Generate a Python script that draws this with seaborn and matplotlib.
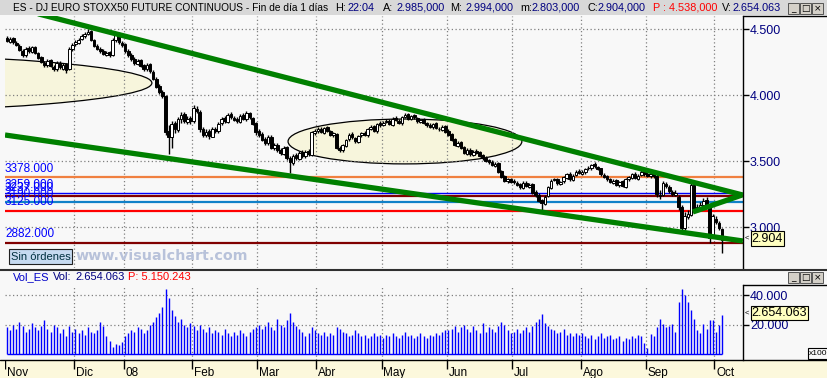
import numpy as np
import pandas as pd
import matplotlib
matplotlib.use("Agg")
import matplotlib.pyplot as plt
import seaborn as sns
from matplotlib.patches import Ellipse, Rectangle
from matplotlib.lines import Line2D
from matplotlib.ticker import FuncFormatter

# ---------------- data ----------------
months = ["Nov", "Dic", "08", "Feb", "Mar", "Abr", "May", "Jun", "Jul", "Ago", "Sep", "Oct"]
bars_per_month = [22, 16, 22, 21, 19, 21, 21, 21, 22, 21, 22, 3]

opens = [
    4430, 4405, 4430, 4395, 4375, 4335, 4300, 4355, 4325, 4365, 4315, 4285, 4245, 4225, 4265, 4215, 4195, 4245, 4200, 4235, 4195, 4345,
    4385, 4395, 4425, 4445, 4465, 4485, 4415, 4375, 4345, 4335, 4305, 4325, 4300, 4415, 4465, 4395,
    4385, 4335, 4305, 4275, 4235, 4265, 4225, 4195, 4235, 4175, 4125, 4065, 4025, 3990, 3725, 3685, 3785, 3735, 3815, 3855, 3795, 3825,
    3805, 3895, 3875, 3745, 3695, 3725, 3685, 3745, 3725, 3785, 3825, 3795, 3855, 3825, 3815, 3795, 3845, 3815, 3865, 3825, 3785,
    3725, 3705, 3665, 3635, 3685, 3595, 3625, 3585, 3555, 3605, 3525, 3485, 3545, 3515, 3565, 3535, 3575, 3545, 3715,
    3725, 3745, 3715, 3755, 3725, 3695, 3705, 3595, 3585, 3615, 3665, 3705, 3675, 3645, 3695, 3715, 3695, 3745, 3765, 3725, 3785,
    3775, 3795, 3805, 3775, 3825, 3805, 3785, 3835, 3855, 3815, 3845, 3825, 3795, 3815, 3785, 3775, 3755, 3785, 3745, 3735, 3765,
    3725, 3705, 3665, 3615, 3645, 3605, 3555, 3585, 3545, 3575, 3565, 3545, 3525, 3505, 3495, 3465, 3485, 3425, 3385, 3345, 3365,
    3345, 3335, 3325, 3295, 3335, 3305, 3325, 3265, 3245, 3205, 3175, 3235, 3295, 3355, 3365, 3325, 3345, 3375, 3405, 3355, 3395, 3425,
    3405, 3415, 3445, 3445, 3475, 3455, 3445, 3395, 3385, 3365, 3335, 3355, 3315, 3345, 3305, 3365, 3375, 3405, 3365, 3395, 3425,
    3405, 3385, 3405, 3390, 3245, 3240, 3325, 3305, 3265, 3245, 3230, 3150, 2995, 3075, 3090, 3320, 3125, 3155, 3165, 3205, 3160, 2930,
    3060, 3030, 2985,
]
highs = [
    4445, 4440, 4440, 4410, 4385, 4345, 4365, 4370, 4375, 4370, 4325, 4295, 4260, 4275, 4270, 4230, 4255, 4255, 4245, 4245, 4360, 4395,
    4415, 4430, 4465, 4475, 4500, 4490, 4425, 4385, 4360, 4345, 4335, 4335, 4430, 4475, 4480, 4410,
    4395, 4345, 4320, 4285, 4275, 4275, 4235, 4245, 4245, 4190, 4135, 4080, 4035, 4000, 3770, 3800, 3800, 3830, 3870, 3870, 3840, 3840,
    3925, 3920, 3885, 3760, 3740, 3740, 3755, 3760, 3795, 3835, 3840, 3865, 3870, 3840, 3830, 3855, 3860, 3880, 3875, 3835, 3795,
    3740, 3720, 3680, 3695, 3695, 3640, 3640, 3600, 3615, 3615, 3540, 3555, 3560, 3575, 3580, 3580, 3590, 3730, 3745,
    3755, 3755, 3760, 3765, 3735, 3720, 3715, 3610, 3630, 3670, 3710, 3720, 3685, 3700, 3720, 3725, 3750, 3775, 3775, 3790, 3800,
    3805, 3815, 3815, 3830, 3840, 3815, 3840, 3865, 3865, 3850, 3855, 3835, 3820, 3825, 3795, 3785, 3790, 3795, 3760, 3770, 3775,
    3740, 3715, 3675, 3655, 3655, 3615, 3595, 3595, 3580, 3590, 3575, 3555, 3535, 3515, 3505, 3495, 3490, 3435, 3395, 3375, 3375,
    3360, 3350, 3335, 3345, 3345, 3330, 3335, 3280, 3260, 3215, 3240, 3310, 3360, 3375, 3375, 3350, 3390, 3410, 3415, 3400, 3430, 3440,
    3430, 3450, 3460, 3480, 3490, 3465, 3450, 3410, 3395, 3375, 3360, 3360, 3350, 3355, 3370, 3390, 3410, 3415, 3400, 3430, 3435,
    3420, 3415, 3415, 3400, 3280, 3345, 3340, 3320, 3280, 3280, 3240, 3170, 3110, 3130, 3330, 3330, 3175, 3190, 3220, 3230, 3175, 3100,
    3080, 3045, 2994,
]
lows = [
    4400, 4395, 4390, 4370, 4330, 4285, 4290, 4320, 4315, 4310, 4270, 4240, 4215, 4215, 4210, 4180, 4185, 4200, 4190, 4170, 4190, 4335,
    4370, 4385, 4415, 4435, 4455, 4410, 4360, 4340, 4320, 4300, 4295, 4290, 4295, 4405, 4390, 4365,
    4320, 4290, 4260, 4225, 4225, 4210, 4185, 4185, 4170, 4110, 4050, 4005, 3975, 3700, 3550, 3600, 3710, 3720, 3790, 3790, 3780, 3780,
    3790, 3860, 3720, 3680, 3680, 3670, 3680, 3715, 3715, 3770, 3790, 3785, 3815, 3800, 3785, 3785, 3810, 3805, 3820, 3770, 3700,
    3685, 3650, 3620, 3625, 3590, 3580, 3570, 3545, 3545, 3505, 3410, 3470, 3505, 3505, 3525, 3525, 3540, 3540, 3700,
    3710, 3710, 3705, 3720, 3690, 3685, 3590, 3570, 3570, 3605, 3655, 3670, 3640, 3640, 3685, 3690, 3685, 3735, 3720, 3715, 3760,
    3765, 3785, 3770, 3765, 3800, 3780, 3775, 3825, 3810, 3810, 3820, 3790, 3790, 3780, 3760, 3750, 3745, 3740, 3725, 3725, 3710,
    3690, 3650, 3610, 3605, 3590, 3550, 3545, 3540, 3535, 3550, 3530, 3510, 3490, 3480, 3460, 3455, 3410, 3370, 3340, 3335, 3330,
    3325, 3310, 3290, 3285, 3300, 3295, 3250, 3230, 3190, 3110, 3165, 3225, 3290, 3345, 3320, 3315, 3335, 3365, 3350, 3345, 3385, 3400,
    3395, 3405, 3430, 3435, 3450, 3430, 3390, 3370, 3350, 3330, 3325, 3310, 3305, 3300, 3295, 3350, 3365, 3360, 3355, 3385, 3390,
    3380, 3375, 3370, 3230, 3210, 3235, 3295, 3255, 3235, 3235, 3130, 2975, 2980, 3060, 3085, 3110, 3110, 3140, 3150, 3150, 2880, 2915,
    3020, 2975, 2803,
]
closes = [
    4410, 4425, 4400, 4380, 4340, 4300, 4350, 4330, 4360, 4320, 4280, 4250, 4230, 4260, 4220, 4200, 4240, 4210, 4230, 4190, 4350, 4380,
    4400, 4420, 4450, 4460, 4480, 4420, 4370, 4350, 4330, 4310, 4320, 4300, 4420, 4460, 4400, 4380,
    4330, 4300, 4270, 4240, 4260, 4220, 4200, 4230, 4180, 4120, 4060, 4020, 3990, 3720, 3680, 3780, 3740, 3820, 3850, 3800, 3820, 3800,
    3900, 3880, 3740, 3700, 3720, 3690, 3740, 3730, 3780, 3820, 3800, 3850, 3830, 3810, 3800, 3840, 3820, 3860, 3830, 3780, 3720,
    3700, 3660, 3640, 3680, 3600, 3620, 3580, 3560, 3600, 3520, 3490, 3540, 3520, 3560, 3540, 3570, 3550, 3720, 3730,
    3740, 3720, 3750, 3730, 3700, 3710, 3600, 3580, 3620, 3660, 3700, 3680, 3650, 3690, 3710, 3700, 3740, 3760, 3730, 3780, 3770,
    3790, 3800, 3780, 3820, 3810, 3790, 3830, 3850, 3820, 3840, 3830, 3800, 3810, 3790, 3770, 3760, 3780, 3750, 3740, 3760, 3720,
    3700, 3660, 3620, 3640, 3600, 3560, 3580, 3550, 3570, 3560, 3540, 3520, 3500, 3490, 3470, 3480, 3420, 3380, 3350, 3360, 3340,
    3340, 3320, 3300, 3330, 3310, 3320, 3260, 3240, 3200, 3180, 3230, 3300, 3350, 3360, 3330, 3340, 3380, 3400, 3360, 3390, 3420, 3410,
    3420, 3440, 3450, 3470, 3460, 3440, 3400, 3380, 3360, 3340, 3350, 3320, 3340, 3310, 3360, 3380, 3400, 3370, 3390, 3420, 3400,
    3390, 3400, 3385, 3250, 3235, 3330, 3310, 3270, 3250, 3260, 3150, 2990, 3080, 3100, 3320, 3130, 3150, 3170, 3200, 3160, 2920, 3080,
    3040, 2990, 2904,
]
volumes = [  # units of x100
    18000, 16000, 20000, 17000, 22000, 19000, 15000, 17000, 21000, 18000, 16000, 19000, 23000, 17000, 15000, 20000, 18000, 14000, 17000, 12000, 19000, 15000,
    17000, 14000, 16000, 13000, 18000, 15000, 14000, 16000, 22000, 19000, 12000, 9000, 5000, 7000, 6000, 8000,
    12000, 14000, 16000, 15000, 18000, 17000, 14000, 16000, 20000, 22000, 25000, 28000, 32000, 44000, 38000, 30000, 26000, 22000, 24000, 20000, 18000, 21000,
    19000, 16000, 20000, 17000, 15000, 18000, 14000, 16000, 15000, 13000, 17000, 14000, 12000, 15000, 13000, 16000, 14000, 12000, 15000, 17000, 18000,
    20000, 17000, 19000, 22000, 18000, 16000, 24000, 20000, 18000, 23000, 28000, 22000, 19000, 17000, 15000, 12000, 14000, 18000, 16000,
    14000, 13000, 15000, 12000, 14000, 13000, 18000, 17000, 15000, 14000, 12000, 13000, 16000, 14000, 12000, 13000, 11000, 12000, 14000, 12000, 13000,
    11000, 13000, 12000, 14000, 12000, 11000, 13000, 15000, 12000, 13000, 11000, 12000, 14000, 12000, 11000, 13000, 12000, 14000, 13000, 15000, 16000,
    16000, 17000, 19000, 15000, 18000, 20000, 17000, 15000, 19000, 16000, 14000, 21000, 15000, 18000, 17000, 15000, 19000, 22000, 20000, 16000, 14000,
    15000, 17000, 14000, 16000, 18000, 15000, 19000, 22000, 24000, 27000, 21000, 19000, 17000, 16000, 14000, 15000, 17000, 13000, 14000, 12000, 14000, 13000,
    14000, 12000, 11000, 13000, 10000, 12000, 14000, 11000, 12000, 13000, 10000, 11000, 12000, 9000, 11000, 10000, 12000, 11000, 13000, 12000, 7600,
    4000, 13800, 12000, 18500, 24000, 20500, 18500, 19000, 20500, 15000, 35000, 44000, 40000, 35000, 30000, 24000, 16000, 14000, 20500, 17000, 23000, 23000,
    15000, 20000, 26540.63,
]

price_ticks = [3000, 3500, 4000, 4500]
volume_ticks = [20000, 40000]

level_values = [3378, 3259, 3237, 3190, 3125, 2882]
level_labels = ["3378.000", "3259.000", "3237.000", "3190.000", "3125.000", "2882.000"]

upper_trend_bar, upper_trend_price = [10.0, 236.7], [4615, 3242]
lower_trend_bar, lower_trend_price = [-0.64, 236.7], [3697, 2894]
short_trend_bar, short_trend_price = [220.6, 236.4], [3114, 3242]

# ellipses: centre bar, centre price, half width (bars), half height (price)
left_ellipse = (-66.6, 4091, 113.2, 223)
mid_ellipse = (128.0, 3648, 37.6, 170)

# ---------------- styling ----------------
sns.set_theme(style="white")
plt.rcParams["font.family"] = ["Liberation Sans", "DejaVu Sans"]

W, H = 828, 378
BG = "#f8f8f8"
NAVY = "#000080"
fig = plt.figure(figsize=(W / 100, H / 100), dpi=100, facecolor=BG)


def rect(l, t, r, b):
    return [l / W, 1 - b / H, (r - l) / W, (b - t) / H]


def fpt(x, y):
    return x / W, 1 - y / H


n = min(len(opens), len(highs), len(lows), len(closes), len(volumes))
o = np.array(opens[:n], float)
h = np.array(highs[:n], float)
lo = np.array(lows[:n], float)
c = np.array(closes[:n], float)
v = np.array(volumes[:n], float)
x = np.arange(n)
month_start = np.cumsum([0] + bars_per_month[:-1])

XMIN, XMAX = (5 - 7) / 3.109, (743 - 7) / 3.109

# background strips (drawn below everything)
fig.patches.append(Rectangle((0, 1 - 15 / H), 1, 15 / H, transform=fig.transFigure,
                             facecolor="#d8d8d8", edgecolor="none", zorder=-5))
fig.patches.append(Rectangle((0, 0), 1, 18 / H, transform=fig.transFigure,
                             facecolor="#fcf8dc", edgecolor="none", zorder=-5))

ax = fig.add_axes(rect(5, 16, 743, 268))
axv = fig.add_axes(rect(5, 285, 743, 360))

fmt = FuncFormatter(lambda val, p: f"{val:,.0f}".replace(",", "."))
for a in (ax, axv):
    a.set_facecolor(BG)
    a.set_xlim(XMIN, XMAX)
    for s in ("left", "top", "bottom"):
        a.spines[s].set_visible(False)
    a.spines["right"].set_color("black")
    a.spines["right"].set_linewidth(1)
    a.yaxis.tick_right()
    a.yaxis.set_major_formatter(fmt)
    a.tick_params(axis="y", direction="out", length=4, width=1, color="black",
                  labelcolor=NAVY, labelsize=9, pad=1)
    a.set_xticks(month_start[1:] - 0.5)
    a.tick_params(axis="x", length=0, labelbottom=False)
    a.set_axisbelow(True)
    a.grid(True, linestyle=(0, (1, 2)), color="#808080", linewidth=0.9)

ax.set_ylim(2689.4, 4598.5)
ax.set_yticks(price_ticks)
axv.set_ylim(-4068, 46780)
axv.set_yticks(volume_ticks)

# ellipses
for (cx, cy, aa, bb) in (left_ellipse, mid_ellipse):
    ax.add_patch(Ellipse((cx, cy), 2 * aa, 2 * bb, facecolor="#f7f5dc",
                         edgecolor="black", lw=0.9, zorder=0.2))

# horizontal levels
level_colors = ["#f08040", "#0000ff", "#800000", "#1080c8", "#ff0000", "#800000"]
level_widths = [1.6, 1.0, 1.6, 1.6, 1.6, 1.6]
for val, lab, col, lw in zip(level_values, level_labels, level_colors, level_widths):
    ax.axhline(val, color=col, lw=lw, zorder=2)
    ax.annotate(lab, xy=(0, val), xycoords=("axes fraction", "data"),
                xytext=(0, 1.5), textcoords="offset points", va="bottom",
                ha="left", color="#0000ff", fontsize=8.5, zorder=2)

# candles
ax.vlines(x, lo, h, color="black", lw=1, zorder=3)
up = c >= o
ax.bar(x[up], (c - o)[up], bottom=o[up], width=0.85, color="white",
       edgecolor="black", lw=0.7, zorder=4)
ax.bar(x[~up], (o - c)[~up], bottom=c[~up], width=0.85, color="black",
       edgecolor="black", lw=0.7, zorder=4)

# trend lines
for bx, py in ((upper_trend_bar, upper_trend_price),
               (lower_trend_bar, lower_trend_price),
               (short_trend_bar, short_trend_price)):
    df = pd.DataFrame({"bar": bx, "price": py})
    sns.lineplot(data=df, x="bar", y="price", ax=ax, color="#008000",
                 linewidth=3.8, zorder=5, sort=False, solid_capstyle="butt")
ax.set_xlabel("")
ax.set_ylabel("")

# volume
axv.vlines(x, 0, v, color="#0000ff", lw=1, zorder=3)
axv.hlines(0, x[0], x[-1], color="#0000ff", lw=1, zorder=3)
axv.set_xlabel("")
axv.set_ylabel("")

# ---------------- frame decorations ----------------
for (x0, x1, yy, lw, col) in ((743, 828, 16, 1, "black"), (743, 828, 285, 1, "black"),
                              (0, 828, 269.5, 1.5, "#303030"), (0, 828, 360, 1, "black")):
    fig.lines.append(Line2D([x0 / W, x1 / W], [1 - yy / H] * 2, transform=fig.transFigure,
                            color=col, lw=lw))

# window buttons
for yb in (3, 272):
    for i, sym in enumerate(["_", "□", "×"]):
        bx = 788 + i * 12
        fig.patches.append(Rectangle((bx / W, 1 - (yb + 11) / H), 11 / W, 11 / H,
                                     transform=fig.transFigure, facecolor="#d4d0c8",
                                     edgecolor="#404040", lw=0.6))
        fig.text(*fpt(bx + 5.5, yb + 5.5), sym, ha="center", va="center",
                 fontsize=6.5, color="black", family=["DejaVu Sans"])

# header text
header_parts = [
    ("ES - DJ EURO STOXX50 FUTURE CONTINUOUS - Fin de día 1 días", 13, "black", 7.3),
    ("H:", 335, "black", 7.8), ("22:04", 348, NAVY, 7.8),
    ("A:", 383, "black", 7.8), ("2.985,000", 397, NAVY, 7.8),
    ("M:", 450, "black", 7.8), ("2.994,000", 465, NAVY, 7.8),
    ("m:", 520, "black", 7.8), ("2.803,000", 532, NAVY, 7.8),
    ("C:", 587, "black", 7.8), ("2.904,000", 598, NAVY, 7.8),
    ("P : 4.538,000", 653, "#ff0000", 7.8),
    ("V:", 722, "black", 7.8), ("2.654.063", 733, NAVY, 7.8),
]
for s, px, col, fs in header_parts:
    fig.text(*fpt(px, 8), s, ha="left", va="center", fontsize=fs, color=col)

vol_parts = [("Vol_ES", 13, "#0000c8"), ("Vol:", 53, NAVY), ("2.654.063", 75, NAVY),
             ("P: 5.150.243", 128, "#ff0000")]
for s, px, col in vol_parts:
    fig.text(*fpt(px, 277), s, ha="left", va="center", fontsize=8, color=col)

# Sin órdenes + watermark
fig.patches.append(Rectangle((9 / W, 1 - 264 / H), 63 / W, 15 / H, transform=fig.transFigure,
                             facecolor="#c6daf0", edgecolor="#202020", lw=0.8, zorder=6))
fig.text(*fpt(40.5, 256.5), "Sin órdenes", ha="center", va="center", fontsize=8,
         color="#003040", zorder=7)
fig.text(*fpt(76, 256.5), "www.visualchart.com", ha="left", va="center", fontsize=10.3,
         fontweight="bold", color="#b8c2da", family=["DejaVu Sans"], zorder=7)

# value flags
for (x0, y0, x1, y1, s, yc) in ((751, 231, 784, 246, "2.904", 238.5),
                                (751, 306, 808, 320, "2.654.063", 313)):
    fig.patches.append(Rectangle((x0 / W, 1 - y1 / H), (x1 - x0) / W, (y1 - y0) / H,
                                 transform=fig.transFigure, facecolor="#ffffc0",
                                 edgecolor="black", lw=0.8, zorder=6))
    fig.text(*fpt((x0 + x1) / 2, yc), s, ha="center", va="center", fontsize=9,
             color="black", zorder=7)
    fig.text(*fpt(747, yc), "<", ha="center", va="center", fontsize=5.5, color="black")

fig.patches.append(Rectangle((808 / W, 1 - 359 / H), 20 / W, 11 / H, transform=fig.transFigure,
                             facecolor="#f8f8f8", edgecolor="black", lw=0.8))
fig.text(*fpt(818, 353.5), "x100", ha="center", va="center", fontsize=6, color="black")

# date strip
axd = fig.add_axes(rect(5, 360, 743, 378))
axd.set_xlim(XMIN, XMAX)
axd.set_ylim(0, 1)
axd.axis("off")
for m, lab in zip(month_start, months):
    axd.vlines(m - 0.5, 0.5, 1, color="black", lw=1)
    axd.text(m - 0.5 + 0.6, 0.3, lab, ha="left", va="center", fontsize=8.5, color="black")

fig.savefig("out.png", dpi=100, facecolor=BG)
